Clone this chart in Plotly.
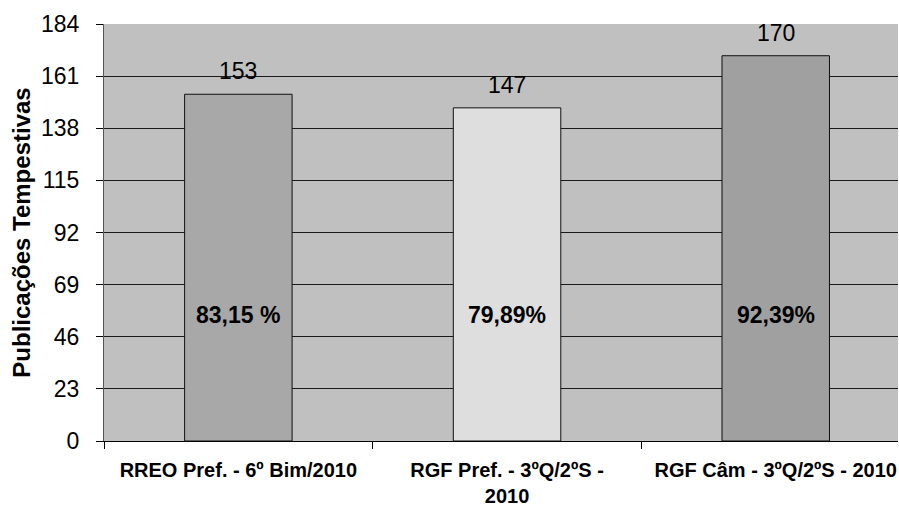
import plotly.graph_objects as go

categories = ["RREO Pref. - 6º Bim/2010", "RGF Pref. - 3ºQ/2ºS -<br>2010", "RGF Câm - 3ºQ/2ºS - 2010"]
values = [153, 147, 170]
percents = ["83,15 %", "79,89%", "92,39%"]
bar_colors = ["#A8A8A8", "#DEDEDE", "#A0A0A0"]
y_ticks = [0, 23, 46, 69, 92, 115, 138, 161, 184]

FONT = "Liberation Sans, Arial"

fig = go.Figure()
fig.add_trace(go.Bar(
    x=categories, y=values,
    marker=dict(color=bar_colors, line=dict(color="#111111", width=1)),
    width=0.4,
))
for c, v in zip(categories, values):
    fig.add_annotation(x=c, y=v, text=str(v), showarrow=False, yanchor="bottom", yshift=8,
                       font=dict(family=FONT, size=23, color="#000"))
for c, p in zip(categories, percents):
    fig.add_annotation(x=c, y=55.8, text="<b>" + p + "</b>", showarrow=False,
                       font=dict(family=FONT, size=23, color="#000"))

fig.update_layout(
    width=899, height=507,
    margin=dict(l=104, r=1, t=24, b=66, autoexpand=False),
    paper_bgcolor="white", plot_bgcolor="#C0C0C0",
    showlegend=False,
    font=dict(family=FONT, color="#000"),
    xaxis=dict(range=[-0.5, 2.455], showgrid=False, showline=True, linecolor="#000", linewidth=1,
               ticks="outside", ticklen=7, tickcolor="#000", tickson="boundaries",
               tickfont=dict(size=20, family=FONT, color="#000", weight="bold"),
               ticklabelstandoff=11, fixedrange=True, automargin=False),
    yaxis=dict(range=[0, 184], tickvals=y_ticks, showgrid=True, gridcolor="#1a1a1a", gridwidth=1,
               showline=True, linecolor="#555", linewidth=1, ticks="outside", ticklen=7, tickcolor="#000",
               tickfont=dict(size=23, family=FONT, color="#000"), automargin=False,
               ticklabelstandoff=12, zeroline=False, fixedrange=True,
               title=dict(text="<b>Publicações Tempestivas</b>", font=dict(size=24, family=FONT, color="#000"), standoff=3)),
)
fig.write_html("out.html", config={"responsive": False, "displayModeBar": False},
               post_script="document.body.style.margin='0px';document.body.style.padding='0px';")
